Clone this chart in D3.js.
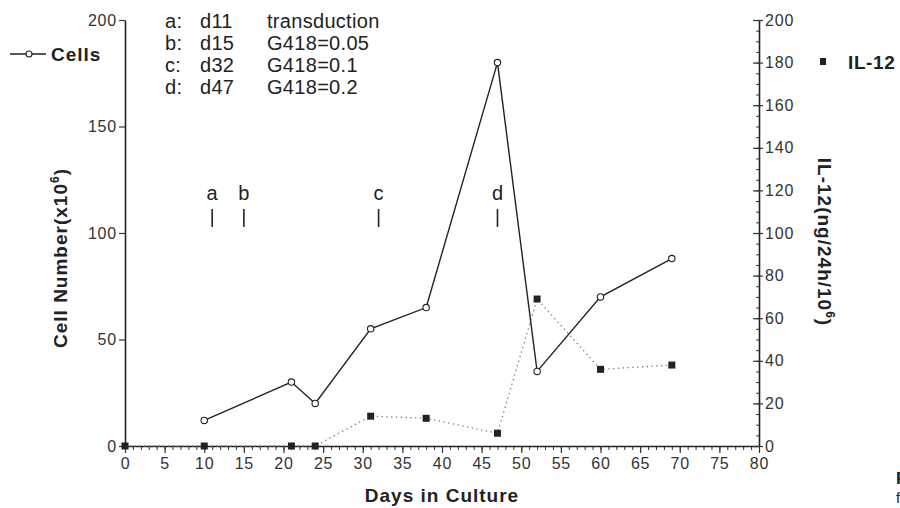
<!DOCTYPE html>
<html>
<head>
<meta charset="utf-8">
<script src="https://cdn.jsdelivr.net/npm/d3@7"></script>
<style>
  body { margin: 0; background: #fff; }
  svg { font-family: "Liberation Sans", Arial, sans-serif; }
</style>
</head>
<body>
<svg id="chart" width="900" height="508"></svg>
<script>
// data
const cellDays = [10, 21, 24, 31, 38, 47, 52, 60, 69];
const cellValues = [12, 30, 20, 55, 65, 180, 35, 70, 88];
const il12Days = [0, 10, 21, 24, 31, 38, 47, 52, 60, 69];
const il12Values = [0, 0, 0, 0, 14, 13, 6, 69, 36, 38];
const eventLetters = ['a', 'b', 'c', 'd'];
const eventDays = [11, 15, 32, 47];
const eventNotes = ['transduction', 'G418=0.05', 'G418=0.1', 'G418=0.2'];
const xTicks = d3.range(0, 81, 5);
const leftTicks = [0, 50, 100, 150, 200];
const rightTicks = d3.range(0, 201, 20);

const w = 900;
const h = 508;
const svg = d3.select('#chart');
const ink = '#222';

const x = d3.scaleLinear().domain([0, 80]).range([125, 759]);
const yL = d3.scaleLinear().domain([0, 200]).range([446, 20]);
const yR = d3.scaleLinear().domain([0, 200]).range([446, 20]);

function tickText(g) {
  g.selectAll('text').attr('font-size', 16).attr('letter-spacing', 0.8).attr('fill', '#333');
}

// x axis with minor ticks
svg.append('g')
  .attr('transform', 'translate(0,446)')
  .call(d3.axisBottom(x).tickValues(d3.range(0, 81, 1)).tickSize(4).tickFormat(''))
  .call(g => g.select('.domain').remove())
  .selectAll('line').attr('stroke', '#333');
svg.append('g')
  .attr('transform', 'translate(0,446)')
  .call(d3.axisBottom(x).tickValues(xTicks).tickSize(7).tickSizeOuter(0).tickPadding(5))
  .call(g => g.select('.domain').attr('stroke', ink).attr('stroke-width', 1.6))
  .call(g => g.selectAll('line').attr('stroke', '#333').attr('stroke-width', 1.2))
  .call(tickText);

// left axis
svg.append('g')
  .attr('transform', 'translate(125,0)')
  .call(d3.axisLeft(yL).tickValues(leftTicks).tickSize(6).tickSizeOuter(0).tickPadding(2))
  .call(g => g.select('.domain').attr('stroke', ink).attr('stroke-width', 1.6))
  .call(g => g.selectAll('line').attr('stroke', '#333').attr('stroke-width', 1.2))
  .call(tickText);

// right axis: minor ticks inward, labels outside
svg.append('g')
  .attr('transform', 'translate(759,0)')
  .call(d3.axisLeft(yR).tickValues(d3.range(0, 201, 5)).tickSize(3).tickFormat(''))
  .call(g => g.select('.domain').remove())
  .selectAll('line').attr('stroke', '#333');
const rAxis = svg.append('g')
  .attr('transform', 'translate(759,0)')
  .call(d3.axisRight(yR).tickValues(rightTicks).tickSize(4).tickSizeOuter(0).tickPadding(2))
  .call(g => g.select('.domain').attr('stroke', ink).attr('stroke-width', 1.6))
  .call(g => g.selectAll('line').attr('stroke', '#333').attr('stroke-width', 1.2))
  .call(tickText);
rAxis.selectAll('.tick').append('line')
  .attr('x1', -6).attr('x2', 0).attr('stroke', '#333').attr('stroke-width', 1.2);

// IL-12 dotted series
const il12 = il12Days.map((d, i) => ({ day: d, v: il12Values[i] }));
svg.append('path')
  .datum(il12)
  .attr('fill', 'none')
  .attr('stroke', '#777')
  .attr('stroke-width', 1.3)
  .attr('stroke-dasharray', '1.3,3.5')
  .attr('d', d3.line().x(d => x(d.day)).y(d => yR(d.v)));
svg.selectAll('rect.il')
  .data(il12)
  .enter()
  .append('rect')
  .attr('class', 'il')
  .attr('x', d => x(d.day) - 3.5)
  .attr('y', d => yR(d.v) - 3.5)
  .attr('width', 7)
  .attr('height', 7)
  .attr('fill', ink);

// cells solid series
const cells = cellDays.map((d, i) => ({ day: d, v: cellValues[i] }));
svg.append('path')
  .datum(cells)
  .attr('fill', 'none')
  .attr('stroke', ink)
  .attr('stroke-width', 1.4)
  .attr('d', d3.line().x(d => x(d.day)).y(d => yL(d.v)));
svg.selectAll('circle.cell')
  .data(cells)
  .enter()
  .append('circle')
  .attr('class', 'cell')
  .attr('cx', d => x(d.day))
  .attr('cy', d => yL(d.v))
  .attr('r', 3.2)
  .attr('fill', '#fff')
  .attr('stroke', ink)
  .attr('stroke-width', 1.1);

// event marks a-d
eventLetters.forEach((l, i) => {
  svg.append('text')
    .attr('x', x(eventDays[i]))
    .attr('y', 200)
    .attr('text-anchor', 'middle')
    .attr('font-size', 20)
    .attr('fill', ink)
    .text(l);
  svg.append('line')
    .attr('x1', x(eventDays[i])).attr('x2', x(eventDays[i]))
    .attr('y1', 209).attr('y2', 227)
    .attr('stroke', ink).attr('stroke-width', 1.6);
});

// event notes at top
eventLetters.forEach((l, i) => {
  const yy = 28 + i * 22;
  const t = (xx, s) => svg.append('text').attr('x', xx).attr('y', yy)
    .attr('font-size', 20).attr('letter-spacing', 0.3).attr('fill', ink).text(s);
  t(165, l + ':');
  t(200, 'd' + eventDays[i]);
  t(267, eventNotes[i]);
});

// Cells legend
svg.append('line').attr('x1', 10).attr('x2', 46).attr('y1', 54).attr('y2', 54)
  .attr('stroke', ink).attr('stroke-width', 1.4);
svg.append('circle').attr('cx', 29).attr('cy', 54).attr('r', 3)
  .attr('fill', '#fff').attr('stroke', ink).attr('stroke-width', 1.1);
svg.append('text').attr('x', 51).attr('y', 61).attr('font-size', 19)
  .attr('letter-spacing', 1).attr('font-weight', 'bold').attr('fill', ink).text('Cells');

// IL-12 legend
svg.append('rect').attr('x', 820).attr('y', 58).attr('width', 6).attr('height', 7).attr('fill', ink);
svg.append('text').attr('x', 848).attr('y', 69).attr('font-size', 19)
  .attr('letter-spacing', 0.6).attr('font-weight', 'bold').attr('fill', ink).text('IL-12');

// axis titles
const lt = svg.append('text')
  .attr('transform', 'translate(67,258) rotate(-90)')
  .attr('text-anchor', 'middle')
  .attr('font-size', 19)
  .attr('letter-spacing', 1)
  .attr('font-weight', 'bold')
  .attr('fill', ink);
lt.append('tspan').text('Cell Number(x10');
lt.append('tspan').attr('font-size', 12).attr('dy', -8).text('6');
lt.append('tspan').attr('dy', 8).text(')');

const rt = svg.append('text')
  .attr('transform', 'translate(818,242) rotate(90)')
  .attr('text-anchor', 'middle')
  .attr('font-size', 19)
  .attr('letter-spacing', 1)
  .attr('font-weight', 'bold')
  .attr('fill', ink);
rt.append('tspan').text('IL-12(ng/24h/10');
rt.append('tspan').attr('font-size', 12).attr('dy', -8).text('6');
rt.append('tspan').attr('dy', 8).text(')');

svg.append('text')
  .attr('x', 442).attr('y', 502)
  .attr('text-anchor', 'middle')
  .attr('font-size', 19)
  .attr('letter-spacing', 1)
  .attr('font-weight', 'bold')
  .attr('fill', ink)
  .text('Days in Culture');

// caption cut off at the right edge, as in the source figure
svg.append('text').attr('x', 896).attr('y', 484).attr('font-size', 17)
  .attr('font-weight', 'bold').attr('fill', ink).text('Fig');
svg.append('text').attr('x', 896).attr('y', 503).attr('font-size', 15)
  .attr('fill', ink).text('f');
</script>
</body>
</html>
